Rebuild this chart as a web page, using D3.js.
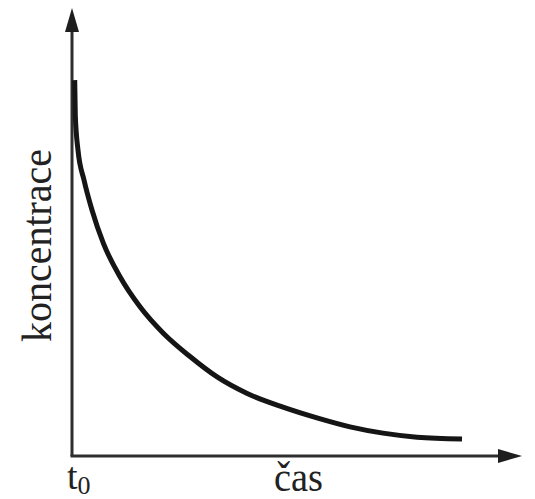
<!DOCTYPE html>
<meta charset='utf-8'>
<style>
body { margin: 0; background: #fff; }
.axis line { stroke: #2e2e2e; stroke-width: 3px; }
.arrow { fill: #1e1e1e; }
.label { fill: #222; }
</style>
<svg width='535' height='499'></svg>
<script src='https://d3js.org/d3.v7.min.js'></script>
<script>

// time (0..100) vs concentration (0..100)
var time = [0.6, 0.73, 1.33, 2.67, 4.44, 6.96, 10.67, 15.11, 20.29, 26.22, 32.16, 38.82, 46.89, 54.44, 61.78, 69.11, 76.67, 86.67];
var conc = [83.9, 76.1, 68.3, 61.6, 54.9, 47.5, 40.0, 33.3, 27.4, 22.2, 17.7, 14.0, 10.9, 8.5, 6.5, 5.1, 4.2, 3.8];

var yLabel = 'koncentrace',
    xLabel = 'čas',
    originLabel = 't',
    originSub = '0';

var serif = "'Liberation Serif', 'Times New Roman', Tinos, 'DejaVu Serif', 'Noto Serif', FreeSerif, serif";

var svg = d3.select('svg');

var x = d3.scaleLinear().domain([0, 100]).range([72, 522]);
var y = d3.scaleLinear().domain([0, 100]).range([456, 8]);

var axes = svg.append('g').attr('class', 'axis');

// vertical axis + arrow
axes.append('line')
  .attr('x1', x(0)).attr('y1', y(0))
  .attr('x2', x(0)).attr('y2', y(100) + 14);
svg.append('path')
  .attr('class', 'arrow')
  .attr('d', 'M' + x(0) + ',' + y(100)
    + 'L' + (x(0) + 7) + ',' + (y(100) + 24)
    + 'L' + (x(0) - 7) + ',' + (y(100) + 24) + 'Z');

// horizontal axis + arrow
axes.append('line')
  .attr('x1', x(0) - 1.5).attr('y1', y(0))
  .attr('x2', x(100) - 14).attr('y2', y(0));
svg.append('path')
  .attr('class', 'arrow')
  .attr('d', 'M' + x(100) + ',' + y(0)
    + 'L' + (x(100) - 24) + ',' + (y(0) - 7)
    + 'L' + (x(100) - 24) + ',' + (y(0) + 7) + 'Z');

// the decay curve
var pts = time.map(function(t, i) { return [t, conc[i]]; });
var line = d3.line()
  .x(function(d) { return x(d[0]); })
  .y(function(d) { return y(d[1]); })
  .curve(d3.curveMonotoneX);

svg.append('path')
  .datum(pts)
  .attr('d', line)
  .attr('fill', 'none')
  .attr('stroke', '#151515')
  .attr('stroke-width', 5)
  .attr('stroke-linecap', 'butt');

// labels
svg.append('text')
  .attr('class', 'label')
  .attr('font-family', serif)
  .attr('transform', 'translate(51,' + y(47) + ') rotate(-90)')
  .attr('text-anchor', 'middle')
  .attr('font-size', 42)
  .attr('textLength', 193)
  .attr('lengthAdjust', 'spacingAndGlyphs')
  .text(yLabel);

svg.append('text')
  .attr('class', 'label')
  .attr('font-family', serif)
  .attr('x', 274)
  .attr('y', 491)
  .attr('font-size', 42)
  .attr('textLength', 49)
  .attr('lengthAdjust', 'spacingAndGlyphs')
  .text(xLabel);

var t0 = svg.append('text')
  .attr('class', 'label')
  .attr('font-family', serif)
  .attr('x', 67)
  .attr('y', 489)
  .attr('font-size', 38);
t0.append('tspan').text(originLabel);
t0.append('tspan')
  .attr('font-size', 26)
  .attr('dy', 5)
  .text(originSub);

</script>
